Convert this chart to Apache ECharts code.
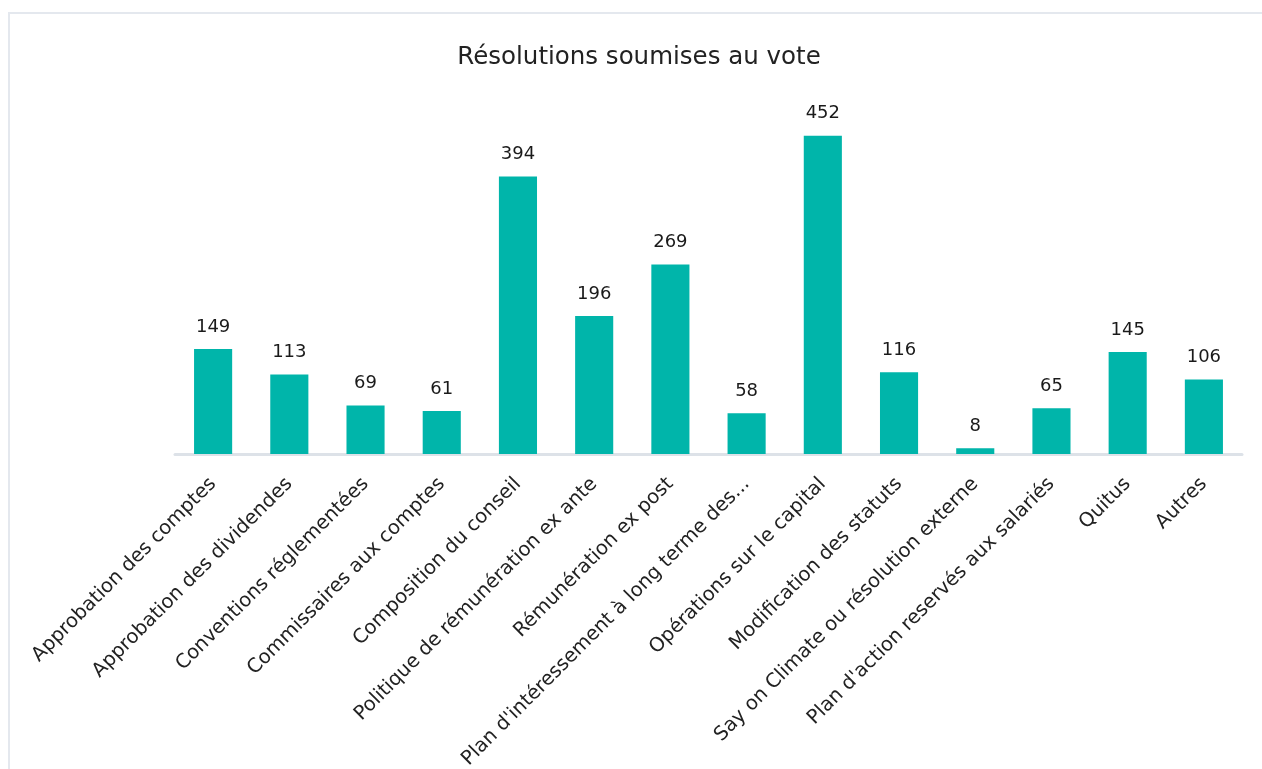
<!DOCTYPE html>
<html>
<head>
<meta charset="utf-8">
<script src="https://cdn.jsdelivr.net/npm/echarts@6/dist/echarts.min.js"></script>
<style>
html,body{margin:0;padding:0;background:#fff;overflow:hidden;}
#card{position:absolute;left:8px;top:12px;width:1300px;height:800px;border:2px solid #e4e8ee;box-sizing:border-box;}
#chart{position:absolute;left:0;top:0;width:1262px;height:769px;}
</style>
</head>
<body>
<div id="card"></div>
<div id="chart"></div>
<script>
const title = "Résolutions soumises au vote";
const categories = [
  "Approbation des comptes",
  "Approbation des dividendes",
  "Conventions réglementées",
  "Commissaires aux comptes",
  "Composition du conseil",
  "Politique de rémunération ex ante",
  "Rémunération ex post",
  "Plan d'intéressement à long terme des...",
  "Opérations sur le capital",
  "Modification des statuts",
  "Say on Climate ou résolution externe",
  "Plan d'action reservés aux salariés",
  "Quitus",
  "Autres"
];
const values = [149, 113, 69, 61, 394, 196, 269, 58, 452, 116, 8, 65, 145, 106];

const FONT = "DejaVu Sans";
const chart = echarts.init(document.getElementById('chart'), null, {renderer: 'canvas'});
chart.setOption({
  animation: false,
  textStyle: {fontFamily: FONT},
  title: {
    text: title,
    left: 634,
    textAlign: 'center',
    top: 40,
    textStyle: {fontFamily: FONT, fontSize: 24.5, fontWeight: 'normal', color: '#222'}
  },
  grid: {left: 175, right: 20, top: 102, bottom: 315, containLabel: false, outerBoundsMode: 'none'},
  xAxis: {
    type: 'category',
    data: categories,
    axisLine: {show: true, lineStyle: {color: '#dde2e8', width: 3}},
    axisTick: {show: false},
    axisLabel: {
      rotate: 45,
      interval: 0,
      margin: 27,
      fontFamily: FONT,
      fontSize: 19.6,
      color: '#222'
    }
  },
  yAxis: {
    type: 'value',
    min: 0,
    max: 500,
    show: false,
    splitLine: {show: false}
  },
  series: [{
    type: 'bar',
    data: values,
    barWidth: '50%',
    itemStyle: {color: '#00b5aa'},
    label: {
      show: true,
      position: 'top',
      distance: 13,
      fontFamily: FONT,
      fontSize: 18,
      color: '#1a1a1a'
    }
  }]
});
</script>
</body>
</html>
